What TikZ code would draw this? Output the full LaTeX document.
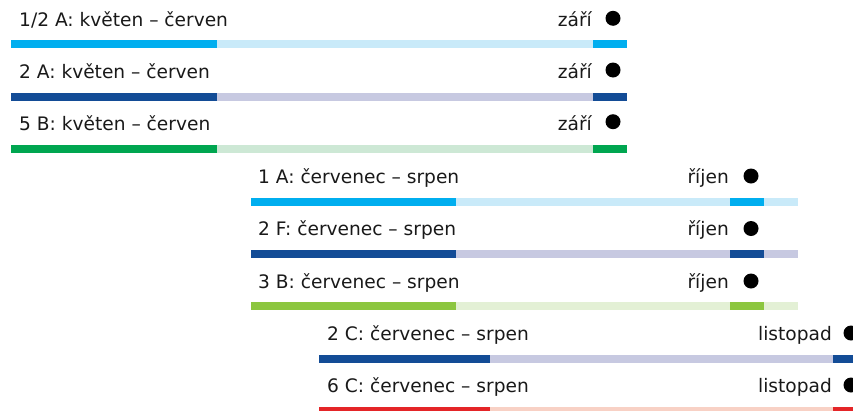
\documentclass[tikz,border=0pt]{standalone}
\usepackage{fontspec}
\setmainfont{DejaVu Sans}
\definecolor{cyanD}{HTML}{00AEEF}
\definecolor{cyanL}{HTML}{C9EAF9}
\definecolor{navyD}{HTML}{134C96}
\definecolor{navyL}{HTML}{C7C9E1}
\definecolor{greenD}{HTML}{00A650}
\definecolor{greenL}{HTML}{CDE8D5}
\definecolor{limeD}{HTML}{8CC63F}
\definecolor{limeL}{HTML}{E3F0D5}
\definecolor{redD}{HTML}{E42528}
\definecolor{redL}{HTML}{F8D1C5}
\tikzset{
	lbl/.style={anchor=base west, inner sep=0pt, text=black!90, font=\fontsize{18.6}{21}\selectfont},
	mon/.style={anchor=base east, inner sep=0pt, text=black!90, font=\fontsize{18.6}{21}\selectfont},
	dot/.style={circle, fill=black, inner sep=0pt, minimum size=15pt}
}

\begin{document}
\begin{tikzpicture}[x=1pt, y=-1pt]
	\useasboundingbox (0,0) rectangle (853,410);
	\clip (0,0) rectangle (853,410);
	% květen -- červen
	\node[lbl] (l1) at (19,26) {1/2 A: květen – červen};
	\node[mon] (m1) at (592,26) {září};
	\node[dot] (d1) at (613,18.3) {};
	\fill[cyanD] (11,40) rectangle (217,48);
	\fill[cyanL] (217,40) rectangle (593,48);
	\fill[cyanD] (593,40) rectangle (627,48);
	\node[lbl] (l2) at (19,78) {2 A: květen – červen};
	\node[mon] (m2) at (592,78) {září};
	\node[dot] (d2) at (613,70) {};
	\fill[navyD] (11,92.5) rectangle (217,100.5);
	\fill[navyL] (217,92.5) rectangle (593,100.5);
	\fill[navyD] (593,92.5) rectangle (627,100.5);
	\node[lbl] (l3) at (19,130) {5 B: květen – červen};
	\node[mon] (m3) at (592,130) {září};
	\node[dot] (d3) at (613,121.7) {};
	\fill[greenD] (11,145) rectangle (217,153);
	\fill[greenL] (217,145) rectangle (593,153);
	\fill[greenD] (593,145) rectangle (627,153);
	% červenec -- srpen, říjen
	\node[lbl] (l4) at (258,183) {1 A: červenec – srpen};
	\node[mon] (m4) at (729,183) {říjen};
	\node[dot] (d4) at (751,176) {};
	\fill[cyanD] (251,197.5) rectangle (456,205.5);
	\fill[cyanL] (456,197.5) rectangle (730,205.5);
	\fill[cyanD] (730,197.5) rectangle (764,205.5);
	\fill[cyanL] (764,197.5) rectangle (798,205.5);
	\node[lbl] (l5) at (258,235.5) {2 F: červenec – srpen};
	\node[mon] (m5) at (729,235.5) {říjen};
	\node[dot] (d5) at (751,228.5) {};
	\fill[navyD] (251,250) rectangle (456,258);
	\fill[navyL] (456,250) rectangle (730,258);
	\fill[navyD] (730,250) rectangle (764,258);
	\fill[navyL] (764,250) rectangle (798,258);
	\node[lbl] (l6) at (258,288) {3 B: červenec – srpen};
	\node[mon] (m6) at (729,288) {říjen};
	\node[dot] (d6) at (751,281) {};
	\fill[limeD] (251,302) rectangle (456,310);
	\fill[limeL] (456,302) rectangle (730,310);
	\fill[limeD] (730,302) rectangle (764,310);
	\fill[limeL] (764,302) rectangle (798,310);
	% červenec -- srpen, listopad
	\node[lbl] (l7) at (327,340.5) {2 C: červenec – srpen};
	\node[mon] (m7) at (832,340.5) {listopad};
	\node[dot] (d7) at (851,333) {};
	\fill[navyD] (319,355) rectangle (490,363);
	\fill[navyL] (490,355) rectangle (833,363);
	\fill[navyD] (833,355) rectangle (860,363);
	\node[lbl] (l8) at (327,392.5) {6 C: červenec – srpen};
	\node[mon] (m8) at (832,392.5) {listopad};
	\node[dot] (d8) at (851,385) {};
	\fill[redD] (319,407) rectangle (490,415);
	\fill[redL] (490,407) rectangle (833,415);
	\fill[redD] (833,407) rectangle (860,415);
\end{tikzpicture}
\end{document}
